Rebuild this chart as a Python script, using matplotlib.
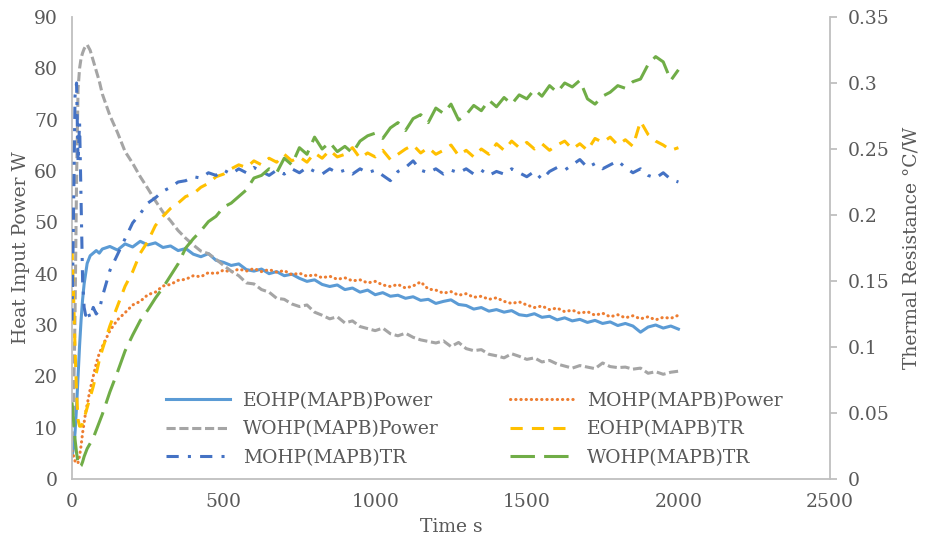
import matplotlib
matplotlib.use("Agg")
import matplotlib.pyplot as plt

# ---------------- data ----------------
t_early = [0, 5, 10, 15, 20, 25, 30, 35, 40, 45, 50, 60, 70, 80, 90]
t_main = list(range(100, 2001, 25))
time_s = t_early + t_main

eohp_power = [4.5, 6, 9, 14, 20, 26, 31, 35, 38, 40, 42, 43.5, 44, 44.5, 44,
    44.8, 45.3, 44.6, 45.8, 45.2, 46.3, 45.6, 46.0, 45.1, 45.4, 44.5, 44.9, 43.8, 43.3, 43.9, 42.6,
    42.2, 41.6, 41.9, 40.8, 40.5, 40.9, 40.0, 40.4, 39.6, 39.9, 39.1, 38.5, 38.8, 37.9, 37.5, 37.8,
    36.9, 37.2, 36.4, 36.8, 35.9, 36.3, 35.6, 35.8, 35.2, 35.5, 34.8, 35.0, 34.2, 34.6, 34.9, 34.0,
    33.8, 33.1, 33.4, 32.7, 33.0, 32.5, 32.8, 32.0, 31.8, 32.2, 31.5, 31.7, 31.0, 31.4, 30.8, 31.1,
    30.5, 30.9, 30.3, 30.6, 29.9, 30.3, 29.8, 28.6, 29.6, 30.0, 29.4, 29.8, 29.2]

mohp_power = [5.5, 4.5, 3.5, 3.0, 3.2, 4.5, 6.5, 9, 11, 13, 14.5, 17.5, 20, 22.5, 24.5,
    25.8, 28.9, 31.0, 32.4, 33.9, 34.6, 35.9, 36.4, 37.6, 37.9, 38.7, 38.9, 39.6, 39.4, 40.2, 40.0,
    40.7, 40.3, 40.9, 40.5, 41.0, 40.4, 40.8, 40.3, 40.6, 39.8, 40.1, 39.5, 39.8, 39.2, 39.5, 38.9,
    39.2, 38.6, 38.8, 38.2, 38.5, 37.8, 37.5, 37.9, 37.2, 37.6, 38.4, 37.0, 36.8, 36.2, 36.5, 35.8,
    36.1, 35.4, 35.6, 35.0, 35.3, 34.6, 34.2, 34.5, 33.9, 33.4, 33.7, 33.0, 33.3, 32.6, 32.9, 32.3,
    32.6, 31.9, 32.3, 31.6, 32.0, 31.4, 31.8, 31.2, 31.6, 31.0, 31.5, 31.3, 31.9]

wohp_power = [7.5, 14, 32, 58, 76, 80, 82, 83, 83.8, 84.3, 84.6, 83.5, 81.5, 79.5, 77.5,
    75.0, 70.8, 67.5, 63.8, 61.5, 58.9, 56.6, 54.2, 52.0, 50.3, 48.4, 46.9, 45.6, 44.4, 43.9, 42.8,
    41.6, 40.5, 39.6, 38.2, 38.0, 36.9, 36.4, 35.2, 35.0, 34.1, 33.6, 33.9, 32.5, 31.9, 31.2, 31.6,
    30.4, 30.8, 29.7, 29.3, 28.9, 29.4, 28.3, 27.9, 28.4, 27.6, 27.1, 26.8, 26.5, 26.9, 25.8, 26.6,
    25.4, 25.0, 25.2, 24.3, 24.0, 23.6, 24.4, 23.9, 23.3, 23.6, 22.8, 23.1, 22.4, 22.0, 21.6, 22.1,
    21.8, 21.5, 22.6, 21.9, 21.7, 21.8, 21.4, 21.6, 20.6, 20.9, 20.4, 20.8, 21.0]

eohp_tr = [0.175, 0.14, 0.10, 0.065, 0.045, 0.040, 0.040, 0.042, 0.046, 0.050, 0.054, 0.062, 0.070, 0.080, 0.090,
    0.098, 0.116, 0.131, 0.146, 0.157, 0.171, 0.180, 0.192, 0.199, 0.205, 0.209, 0.214, 0.216, 0.221, 0.224, 0.229,
    0.231, 0.235, 0.238, 0.236, 0.241, 0.238, 0.243, 0.240, 0.246, 0.241, 0.244, 0.240, 0.247, 0.243, 0.249, 0.244,
    0.246, 0.251, 0.243, 0.247, 0.244, 0.249, 0.242, 0.246, 0.250, 0.253, 0.247, 0.251, 0.246, 0.249, 0.253, 0.245,
    0.249, 0.244, 0.250, 0.246, 0.254, 0.249, 0.256, 0.251, 0.255, 0.250, 0.254, 0.249, 0.253, 0.256, 0.250, 0.254,
    0.249, 0.258, 0.255, 0.259, 0.253, 0.257, 0.252, 0.271, 0.261, 0.256, 0.253, 0.249, 0.251]

mohp_tr = [0.12, 0.20, 0.29, 0.30, 0.24, 0.27, 0.21, 0.15, 0.13, 0.124, 0.128, 0.122, 0.130, 0.125, 0.128,
    0.138, 0.158, 0.170, 0.182, 0.194, 0.201, 0.209, 0.213, 0.218, 0.221, 0.225, 0.226, 0.229, 0.228, 0.232, 0.230,
    0.234, 0.231, 0.235, 0.232, 0.236, 0.233, 0.230, 0.234, 0.231, 0.235, 0.232, 0.236, 0.233, 0.231, 0.235, 0.232,
    0.234, 0.231, 0.235, 0.232, 0.234, 0.230, 0.226, 0.233, 0.236, 0.241, 0.234, 0.232, 0.235, 0.231, 0.234, 0.232,
    0.235, 0.231, 0.234, 0.230, 0.233, 0.231, 0.235, 0.232, 0.229, 0.233, 0.227, 0.233, 0.236, 0.234, 0.238, 0.242,
    0.236, 0.239, 0.235, 0.238, 0.241, 0.236, 0.232, 0.235, 0.230, 0.228, 0.232, 0.227, 0.225]

wohp_tr = [0.058, 0.045, 0.030, 0.020, 0.012, 0.009, 0.010, 0.013, 0.017, 0.020, 0.023, 0.027, 0.031, 0.037, 0.043,
    0.049, 0.066, 0.081, 0.097, 0.109, 0.120, 0.128, 0.137, 0.145, 0.154, 0.163, 0.175, 0.182, 0.188, 0.195, 0.199,
    0.206, 0.209, 0.214, 0.219, 0.228, 0.230, 0.235, 0.232, 0.243, 0.238, 0.251, 0.246, 0.259, 0.250, 0.255, 0.248,
    0.252, 0.247, 0.256, 0.260, 0.262, 0.258, 0.266, 0.270, 0.264, 0.273, 0.276, 0.270, 0.281, 0.277, 0.284, 0.272,
    0.276, 0.283, 0.279, 0.287, 0.282, 0.289, 0.284, 0.291, 0.288, 0.295, 0.290, 0.298, 0.293, 0.300, 0.297, 0.302,
    0.288, 0.284, 0.290, 0.293, 0.298, 0.296, 0.301, 0.303, 0.314, 0.320, 0.316, 0.302, 0.310]

x_ticks = [0, 500, 1000, 1500, 2000, 2500]
left_ticks = [0, 10, 20, 30, 40, 50, 60, 70, 80, 90]
right_ticks = [0, 0.05, 0.1, 0.15, 0.2, 0.25, 0.3, 0.35]
right_tick_labels = ["0", "0.05", "0.1", "0.15", "0.2", "0.25", "0.3", "0.35"]

# ---------------- style ----------------
FONT = "DejaVu Serif"
TXT = "#595959"
AX = "#BFBFBF"
FS = 13.5
plt.rcParams["font.family"] = FONT

fig = plt.figure(figsize=(9.25, 5.41), dpi=100)
ax = fig.add_axes([72 / 925, 62 / 541, 758 / 925, 462 / 541])
ax2 = ax.twinx()

lw = 2.2
l1, = ax.plot(time_s, eohp_power, color="#5B9BD5", lw=lw, label="EOHP(MAPB)Power")
l2, = ax.plot(time_s, mohp_power, color="#ED7D31", lw=lw, linestyle=(0, (0.1, 1.6)),
              dash_capstyle="round", label="MOHP(MAPB)Power")
l3, = ax.plot(time_s, wohp_power, color="#A5A5A5", lw=lw, linestyle=(0, (3, 1.2)),
              label="WOHP(MAPB)Power")
l4, = ax2.plot(time_s, eohp_tr, color="#FFC000", lw=lw, linestyle=(0, (4, 3)),
               label="EOHP(MAPB)TR")
l5, = ax2.plot(time_s, mohp_tr, color="#4472C4", lw=lw, linestyle=(0, (4, 3, 1, 3)),
               label="MOHP(MAPB)TR")
l6, = ax2.plot(time_s, wohp_tr, color="#70AD47", lw=lw, linestyle=(0, (8, 3)),
               label="WOHP(MAPB)TR")

ax.set_xlim(0, 2500)
ax.set_ylim(0, 90)
ax2.set_ylim(0, 0.35)
ax.set_xticks(x_ticks)
ax.set_yticks(left_ticks)
ax2.set_yticks(right_ticks)
ax2.set_yticklabels(right_tick_labels)

for a in (ax, ax2):
    for s in a.spines.values():
        s.set_visible(False)
ax.spines["left"].set_visible(True)
ax.spines["bottom"].set_visible(True)
ax2.spines["right"].set_visible(True)
for s in (ax.spines["left"], ax.spines["bottom"], ax2.spines["right"]):
    s.set_color(AX)
    s.set_linewidth(1.3)

ax.tick_params(axis="x", length=0, pad=10, labelsize=FS, labelcolor=TXT)
ax.tick_params(axis="y", length=0, pad=10, labelsize=FS, labelcolor=TXT)
ax2.tick_params(axis="y", length=5, width=1.3, color=AX, pad=8, labelsize=FS, labelcolor=TXT)

ax.set_xlabel("Time s", fontsize=FS, color=TXT, labelpad=5)
ax.set_ylabel("Heat Input Power W", fontsize=FS, color=TXT, labelpad=3)
ax2.set_ylabel("Thermal Resistance \u00b0C/W", fontsize=FS, color=TXT, labelpad=9)

handles = [l1, l3, l5, l2, l4, l6]
leg = ax2.legend(handles=handles, labels=[h.get_label() for h in handles], ncol=2,
                 loc="upper left", bbox_to_anchor=(94 / 758, (479 - 392) / 462),
                 frameon=False, fontsize=FS, handlelength=3.4, handletextpad=0.7,
                 columnspacing=3.8, labelspacing=0.55, borderaxespad=0, borderpad=0)
for txt in leg.get_texts():
    txt.set_color(TXT)

fig.savefig("out.png", dpi=100)
